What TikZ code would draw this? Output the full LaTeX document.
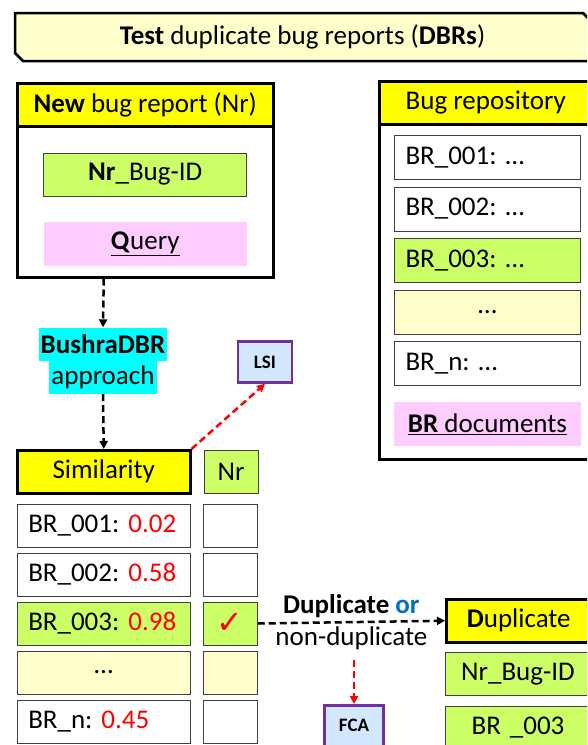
\documentclass[tikz,border=0pt]{standalone}
\usepackage{fontspec}
\setmainfont{Carlito}
\newfontfamily\checkfont{DejaVu Sans}
\usepackage{xcolor}
\usetikzlibrary{positioning,arrows.meta}

\definecolor{hdryellow}{HTML}{FFFF00}
\definecolor{idgreen}{HTML}{CCFF66}
\definecolor{paleyellow}{HTML}{FFFFCC}
\definecolor{querypink}{HTML}{FFCCFF}
\definecolor{hilitecyan}{HTML}{00FFFF}
\definecolor{toolblue}{HTML}{D3E8FF}
\definecolor{toolpurple}{HTML}{7030A0}
\definecolor{orblue}{HTML}{0070C0}
\definecolor{rowgray}{HTML}{404040}

\newcommand{\diagfont}{\fontsize{27}{30}\selectfont}
\newcommand{\score}[1]{\textcolor{red}{#1}}

\begin{document}
\frenchspacing
\begin{tikzpicture}[
		x=1pt, y=-1pt,
		node distance=5pt and 12pt,
		titleframe/.style={
			draw,
			line width=2.5pt,
			fill=paleyellow,
			line join=miter
		},
		panel/.style={
			draw,
			line width=2.5pt,
			fill=white,
			inner sep=0pt
		},
		header/.style={
			draw,
			line width=2.5pt,
			fill=hdryellow,
			minimum height=43pt,
			inner sep=0pt,
			font=\diagfont
		},
		rowbox/.style={
			draw=rowgray,
			line width=1pt,
			minimum height=43pt,
			text width=151pt,
			inner xsep=11pt,
			inner ysep=0pt,
			align=left,
			font=\diagfont
		},
		repobox/.style={
			rowbox,
			minimum height=44pt,
			text width=164pt
		},
		checkbox/.style={
			draw=rowgray,
			line width=1pt,
			minimum width=54pt,
			minimum height=43pt,
			inner sep=0pt,
			font=\diagfont
		},
		plainbox/.style={
			minimum height=44pt,
			inner sep=0pt,
			font=\diagfont
		},
		hilite/.style={
			fill=hilitecyan,
			inner xsep=2pt,
			inner ysep=0pt,
			minimum height=33pt,
			font=\diagfont
		},
		toolbox/.style={
			draw=toolpurple,
			line width=2.5pt,
			fill=toolblue,
			minimum height=41pt,
			inner sep=0pt,
			font=\fontsize{19}{21}\selectfont\bfseries
		},
		arrow/.style={-{Triangle[length=8pt,width=8pt]}, line width=2.5pt, dash pattern=on 7pt off 4pt},
		redarrow/.style={arrow, draw=red, color=red}
		]
		
		\useasboundingbox (0,0) rectangle (587,745);
		\clip (0,0) rectangle (587,745);
		
		% Title
		\draw[titleframe] (15,13) -- (583,13) -- (591,21) -- (591,61) -- (23,61) -- (15,53) -- cycle;
		\node[font=\diagfont] (title) at (302.5,37) {\textbf{Test} duplicate bug reports (\textbf{DBRs})};
		
		% New bug report
		\node[panel, anchor=north west, minimum width=256pt, minimum height=194pt] (nrpanel) at (16,82) {};
		\node[header, anchor=north, minimum width=256pt] (nrhead) at (nrpanel.north) {\textbf{New} bug report (Nr)};
		\node[rowbox, fill=idgreen, text width=181pt, align=center, below=25pt of nrhead] (nrid) {\textbf{Nr}\_Bug-ID};
		\node[plainbox, fill=querypink, minimum width=203pt, below=25pt of nrid] (query) {\underline{\textbf{Q}uery}};
		
		% Bug repository
		\node[panel, anchor=north west, minimum width=213pt, minimum height=378pt] (repo) at (378,80) {};
		\node[header, anchor=north, minimum width=213pt] (repohead) at (repo.north) {Bug repository};
		\node[repobox, anchor=north west] (repo1) at (394,135) {BR\_001: …};
		\node[repobox, below=6.5pt of repo1] (repo2) {BR\_002: …};
		\node[repobox, fill=idgreen, below=6.5pt of repo2] (repo3) {BR\_003: …};
		\node[repobox, fill=paleyellow, align=center, below=6.5pt of repo3] (repodots) {…};
		\node[repobox, below=6.5pt of repodots] (repon) {BR\_n: …};
		\node[plainbox, fill=querypink, minimum width=187pt, below=16pt of repon] (brdocs) {\underline{\textbf{BR} documents}};
		
		% Approach
		\node[hilite, font=\diagfont\bfseries] (approach) at (103,344) {BushraDBR};
		\node[hilite, below=0pt of approach] (approachb) {approach};
		
		% Similarity table
		\node[header, anchor=north west, minimum width=173pt] (simil) at (16,449) {Similarity};
		\node[checkbox, fill=idgreen, right=12pt of simil] (nrcol) {Nr};
		\node[rowbox, below=9pt of simil] (sim1) {BR\_001: \score{0.02}};
		\node[rowbox, below=of sim1] (sim2) {BR\_002: \score{0.58}};
		\node[rowbox, fill=idgreen, below=of sim2] (sim3) {BR\_003: \score{0.98}};
		\node[rowbox, fill=paleyellow, align=center, below=of sim3] (simdots) {…};
		\node[rowbox, below=of simdots] (simn) {BR\_n: \score{0.45}};
		\node[checkbox, right=of sim1] (chk1) {};
		\node[checkbox, right=of sim2] (chk2) {};
		\node[checkbox, fill=idgreen, right=of sim3] (chk3) {\textcolor{red}{\checkfont\fontsize{32}{32}\selectfont ✓}};
		\node[checkbox, fill=paleyellow, right=of simdots] (chkdots) {};
		\node[checkbox, right=of simn] (chkn) {};
		
		% Tools
		\node[toolbox, minimum width=54pt] (lsi) at (265,362) {LSI};
		\node[toolbox, minimum width=59pt, anchor=north] (fca) at (354,704) {FCA};
		
		% Duplicate result
		\node[header, anchor=north west, minimum width=145pt] (dup) at (445,598) {\textbf{D}uplicate};
		\node[rowbox, fill=idgreen, text width=123pt, align=center, anchor=north west] (dupid) at (445,652) {Nr\_Bug-ID};
		\node[rowbox, fill=idgreen, text width=123pt, align=center, below=10pt of dupid] (dupbr) {BR \_003};
		
		% Arrows
		\draw[arrow] (nrpanel.south -| simil.north) -- (approach.north);
		\draw[arrow] (approachb.south) -- (simil.north);
		\draw[redarrow] (simil.north east) -- (lsi.south);
		\draw[arrow] (chk3.east) -- node[above, font=\diagfont] (duplbl) {\textbf{Duplicate} \textcolor{orblue}{\textbf{or}}}
			node[below, font=\diagfont] (nonduplbl) {non-duplicate} (dup.west);
		\draw[redarrow] (nonduplbl.south -| fca.north) ++(0,6) -- (fca.north);
		
	\end{tikzpicture}
\end{document}
